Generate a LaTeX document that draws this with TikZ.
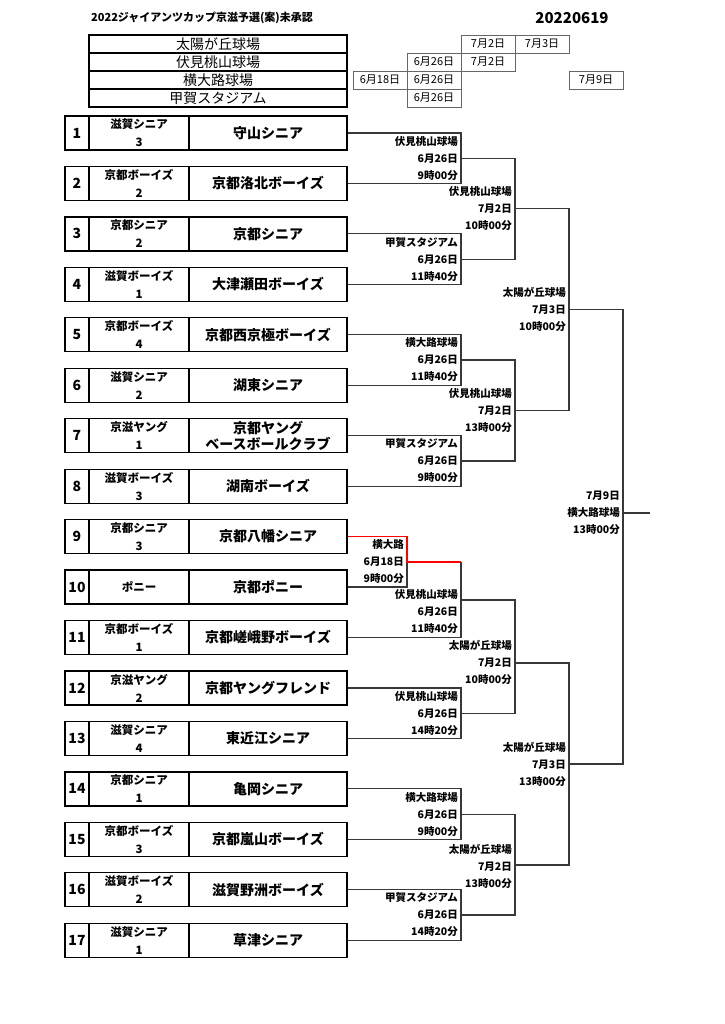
\documentclass[tikz,border=0pt]{standalone}
\usepackage{fontspec}
\setmainfont{Noto Sans CJK JP}
\tikzset{
  box/.style={draw=black, line width=1.3pt, rectangle, inner sep=0pt, minimum height=34},
  numcell/.style={box, minimum width=24, font=\bfseries\fontsize{14}{16}\selectfont},
  subcell/.style={box, minimum width=100, align=center, font=\bfseries\fontsize{11.5}{18}\selectfont},
  namecell/.style={box, minimum width=158, align=center, font=\bfseries\fontsize{14}{16}\selectfont},
  br/.style={draw=black!78, line width=1.2pt},
  win/.style={draw=red, line width=1.4pt},
  lbl/.style={anchor=east, align=right, inner sep=0pt, font=\bfseries\fontsize{10.5}{17}\selectfont},
  venue/.style={draw=black, line width=1.3pt, minimum width=258, minimum height=18, inner sep=0pt, font=\fontsize{14}{16}\selectfont},
  datebox/.style={draw=black!60, line width=0.8pt, minimum width=54, minimum height=18, inner sep=0pt, font=\fontsize{11}{12}\selectfont},
}
\newcommand\teambox[4]{%
  \node[numcell] (n#1) at (77,#2) {#1};
  \node[subcell] (s#1) at (139,#2) {#3};
  \node[namecell] (t#1) at (268,#2) {#4};
}
\begin{document}
\begin{tikzpicture}[x=1pt,y=-1pt]
\useasboundingbox (0,0) rectangle (724,1024);
\fill[white] (0,0) rectangle (724,1024);

% title
\node[anchor=west, inner sep=0pt, font=\bfseries\fontsize{11}{12}\selectfont] (title) at (91,18) {2022ジャイアンツカップ京滋予選(案)未承認};
\node[inner sep=0pt, font=\bfseries\fontsize{15}{16}\selectfont] (date) at (572,18) {20220619};

% venue table
\node[venue] (v1) at (218,44) {太陽が丘球場};
\node[venue] (v2) at (218,62) {伏見桃山球場};
\node[venue] (v3) at (218,80) {横大路球場};
\node[venue] (v4) at (218,98) {甲賀スタジアム};

\node[datebox] (d1b) at (488,44) {7月2日};
\node[datebox] (d1c) at (542,44) {7月3日};
\node[datebox] (d2a) at (434,62) {6月26日};
\node[datebox] (d2b) at (488,62) {7月2日};
\node[datebox] (d3x) at (380,80) {6月18日};
\node[datebox] (d3a) at (434,80) {6月26日};
\node[datebox] (d3e) at (596,80) {7月9日};
\node[datebox] (d4a) at (434,98) {6月26日};

% teams
\teambox{1}{133}{滋賀シニア\\3}{守山シニア}
\teambox{2}{183.45}{京都ボーイズ\\2}{京都洛北ボーイズ}
\teambox{3}{233.9}{京都シニア\\2}{京都シニア}
\teambox{4}{284.35}{滋賀ボーイズ\\1}{大津瀬田ボーイズ}
\teambox{5}{334.8}{京都ボーイズ\\4}{京都西京極ボーイズ}
\teambox{6}{385.25}{滋賀シニア\\2}{湖東シニア}
\teambox{7}{435.7}{京滋ヤング\\1}{京都ヤング\\ベースボールクラブ}
\teambox{8}{486.15}{滋賀ボーイズ\\3}{湖南ボーイズ}
\teambox{9}{536.6}{京都シニア\\3}{京都八幡シニア}
\teambox{10}{587.05}{ポニー}{京都ポニー}
\teambox{11}{637.5}{京都ボーイズ\\1}{京都嵯峨野ボーイズ}
\teambox{12}{687.95}{京滋ヤング\\2}{京都ヤングフレンド}
\teambox{13}{738.4}{滋賀シニア\\4}{東近江シニア}
\teambox{14}{788.85}{京都シニア\\1}{亀岡シニア}
\teambox{15}{839.3}{京都ボーイズ\\3}{京都嵐山ボーイズ}
\teambox{16}{889.75}{滋賀ボーイズ\\2}{滋賀野洲ボーイズ}
\teambox{17}{940.2}{滋賀シニア\\1}{草津シニア}

% junctions
\coordinate (m12) at (461,158.2);
\coordinate (m34) at (461,259.1);
\coordinate (m56) at (461,360);
\coordinate (m78) at (461,460.9);
\coordinate (m910) at (407,561.8);
\coordinate (m911) at (461,600);
\coordinate (m1213) at (461,713.2);
\coordinate (m1415) at (461,814.1);
\coordinate (m1617) at (461,915);
\coordinate (m14) at (515,208.7);
\coordinate (m58) at (515,410.5);
\coordinate (m913) at (515,663);
\coordinate (m1417) at (515,865);
\coordinate (m18) at (569,309.6);
\coordinate (m917) at (569,764);
\coordinate (mf) at (623,513);
\coordinate (champ) at (650,513);
\coordinate (m910r) at (461,561.8);

% bracket lines
\draw[br] (t1.east) -| (m12);
\draw[br] (t2.east) -| (m12);
\draw[br] (t3.east) -| (m34);
\draw[br] (t4.east) -| (m34);
\draw[br] (t5.east) -| (m56);
\draw[br] (t6.east) -| (m56);
\draw[br] (t7.east) -| (m78);
\draw[br] (t8.east) -| (m78);
\draw[br] (m12) -| (m14);
\draw[br] (m34) -| (m14);
\draw[br] (m56) -| (m58);
\draw[br] (m78) -| (m58);
\draw[br] (m14) -| (m18);
\draw[br] (m58) -| (m18);

\draw[br] (t10.east) -| (m910);
\draw[br] (m910r) -- (m911);
\draw[br] (t11.east) -| (m911);
\draw[br] (t12.east) -| (m1213);
\draw[br] (t13.east) -| (m1213);
\draw[br] (t14.east) -| (m1415);
\draw[br] (t15.east) -| (m1415);
\draw[br] (t16.east) -| (m1617);
\draw[br] (t17.east) -| (m1617);
\draw[br] (m911) -| (m913);
\draw[br] (m1213) -| (m913);
\draw[br] (m1415) -| (m1417);
\draw[br] (m1617) -| (m1417);
\draw[br] (m913) -| (m917);
\draw[br] (m1417) -| (m917);

\draw[br] (m18) -| (mf);
\draw[br] (m917) -| (mf);
\draw[br] (mf) -- (champ);

% winner path
\draw[win] (t9.east) -| (m910) -- (m910r);

% labels
\node[lbl] (L12) at (458,158.2) {伏見桃山球場\\6月26日\\9時00分};
\node[lbl] (L34) at (458,259.1) {甲賀スタジアム\\6月26日\\11時40分};
\node[lbl] (L56) at (458,360) {横大路球場\\6月26日\\11時40分};
\node[lbl] (L78) at (458,460.9) {甲賀スタジアム\\6月26日\\9時00分};
\node[lbl] (L14) at (512,208.7) {伏見桃山球場\\7月2日\\10時00分};
\node[lbl] (L58) at (512,410.5) {伏見桃山球場\\7月2日\\13時00分};
\node[lbl] (L18) at (566,309.6) {太陽が丘球場\\7月3日\\10時00分};
\node[lbl] (Lf) at (620,513) {7月9日\\横大路球場\\13時00分};
\node[lbl] (L910) at (404,562) {横大路\\6月18日\\9時00分};
\node[lbl] (L911) at (458,612) {伏見桃山球場\\6月26日\\11時40分};
\node[lbl] (L1213) at (458,713.2) {伏見桃山球場\\6月26日\\14時20分};
\node[lbl] (L913) at (512,662.5) {太陽が丘球場\\7月2日\\10時00分};
\node[lbl] (L1415) at (458,814.1) {横大路球場\\6月26日\\9時00分};
\node[lbl] (L1617) at (458,915) {甲賀スタジアム\\6月26日\\14時20分};
\node[lbl] (L1417) at (512,866) {太陽が丘球場\\7月2日\\13時00分};
\node[lbl] (L917) at (566,764) {太陽が丘球場\\7月3日\\13時00分};
\end{tikzpicture}
\end{document}
